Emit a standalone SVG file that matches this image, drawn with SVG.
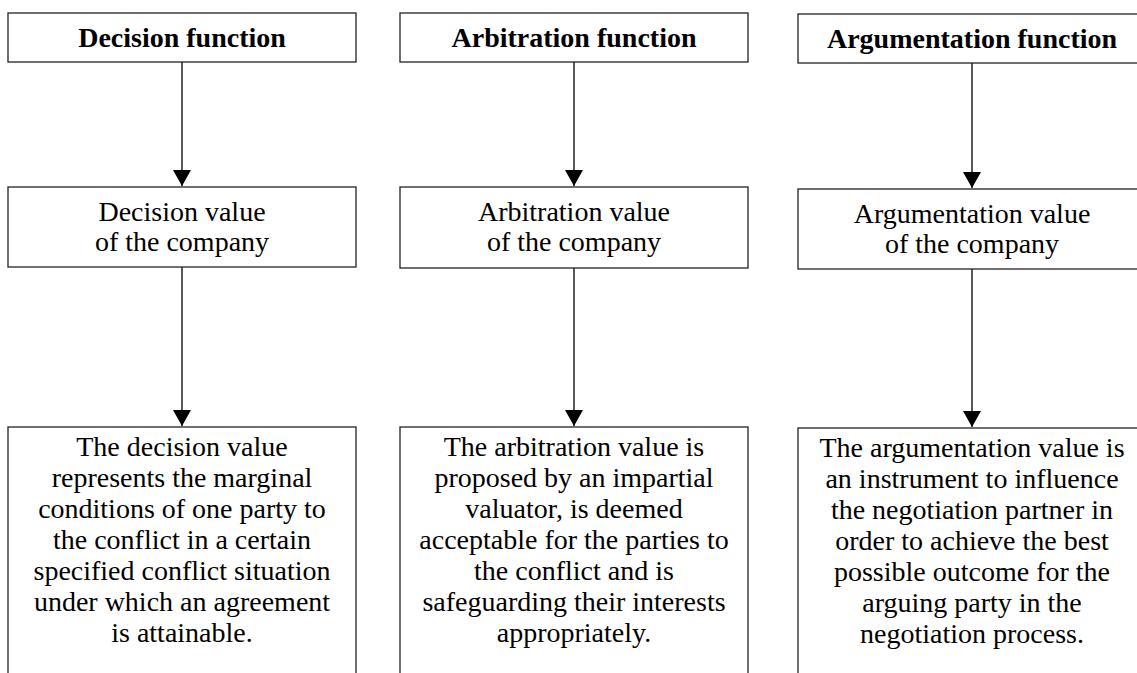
<svg xmlns="http://www.w3.org/2000/svg" width="1137" height="673" viewBox="0 0 1137 673">
<style>
.box{fill:#fff;stroke:#222;stroke-width:1.3}
.t{font-family:'Liberation Serif','Times New Roman',serif;font-size:28px;fill:#000;text-anchor:middle}
.b{font-weight:bold}
.c{stroke:#000;stroke-width:1.3;fill:none;marker-end:url(#ah)}
</style>
<defs>
<marker id="ah" viewBox="0 0 16 18" refX="16" refY="9" markerWidth="16" markerHeight="18" markerUnits="userSpaceOnUse" orient="auto">
<path d="M0,0 L16,9 L0,18 z" fill="#000"/>
</marker>
</defs>
<rect width="1137" height="673" fill="#fff"/>
<g id="connectors">
<line class="c" x1="182" y1="62" x2="182" y2="186"/>
<line class="c" x1="182" y1="267" x2="182" y2="426"/>
<line class="c" x1="574" y1="62" x2="574" y2="186"/>
<line class="c" x1="574" y1="268" x2="574" y2="426"/>
<line class="c" x1="972" y1="63" x2="972" y2="188"/>
<line class="c" x1="972" y1="269" x2="972" y2="427"/>
</g>
<g id="decision-function">
<rect class="box" x="8" y="13" width="348" height="49"/>
<text class="t b" x="182" y="47">Decision function</text>
</g>
<g id="arbitration-function">
<rect class="box" x="400" y="13" width="348" height="49"/>
<text class="t b" x="574" y="47">Arbitration function</text>
</g>
<g id="argumentation-function">
<rect class="box" x="798" y="14" width="348" height="49"/>
<text class="t b" x="972" y="48">Argumentation function</text>
</g>
<g id="decision-value">
<rect class="box" x="8" y="187" width="348" height="80"/>
<text class="t" x="182" y="221">Decision value</text>
<text class="t" x="182" y="251">of the company</text>
</g>
<g id="arbitration-value">
<rect class="box" x="400" y="187" width="348" height="81"/>
<text class="t" x="574" y="221">Arbitration value</text>
<text class="t" x="574" y="251">of the company</text>
</g>
<g id="argumentation-value">
<rect class="box" x="798" y="189" width="348" height="80"/>
<text class="t" x="972" y="223">Argumentation value</text>
<text class="t" x="972" y="253">of the company</text>
</g>
<g id="decision-description">
<rect class="box" x="8" y="427" width="348" height="260"/>
<text class="t" x="182" y="456">The decision value</text>
<text class="t" x="182" y="487">represents the marginal</text>
<text class="t" x="182" y="518">conditions of one party to</text>
<text class="t" x="182" y="549">the conflict in a certain</text>
<text class="t" x="182" y="580">specified conflict situation</text>
<text class="t" x="182" y="611">under which an agreement</text>
<text class="t" x="182" y="642">is attainable.</text>
</g>
<g id="arbitration-description">
<rect class="box" x="400" y="427" width="348" height="260"/>
<text class="t" x="574" y="456">The arbitration value is</text>
<text class="t" x="574" y="487">proposed by an impartial</text>
<text class="t" x="574" y="518">valuator, is deemed</text>
<text class="t" x="574" y="549">acceptable for the parties to</text>
<text class="t" x="574" y="580">the conflict and is</text>
<text class="t" x="574" y="611">safeguarding their interests</text>
<text class="t" x="574" y="642">appropriately.</text>
</g>
<g id="argumentation-description">
<rect class="box" x="798" y="428" width="348" height="260"/>
<text class="t" x="972" y="457">The argumentation value is</text>
<text class="t" x="972" y="488">an instrument to influence</text>
<text class="t" x="972" y="519">the negotiation partner in</text>
<text class="t" x="972" y="550">order to achieve the best</text>
<text class="t" x="972" y="581">possible outcome for the</text>
<text class="t" x="972" y="612">arguing party in the</text>
<text class="t" x="972" y="643">negotiation process.</text>
</g>
</svg>
